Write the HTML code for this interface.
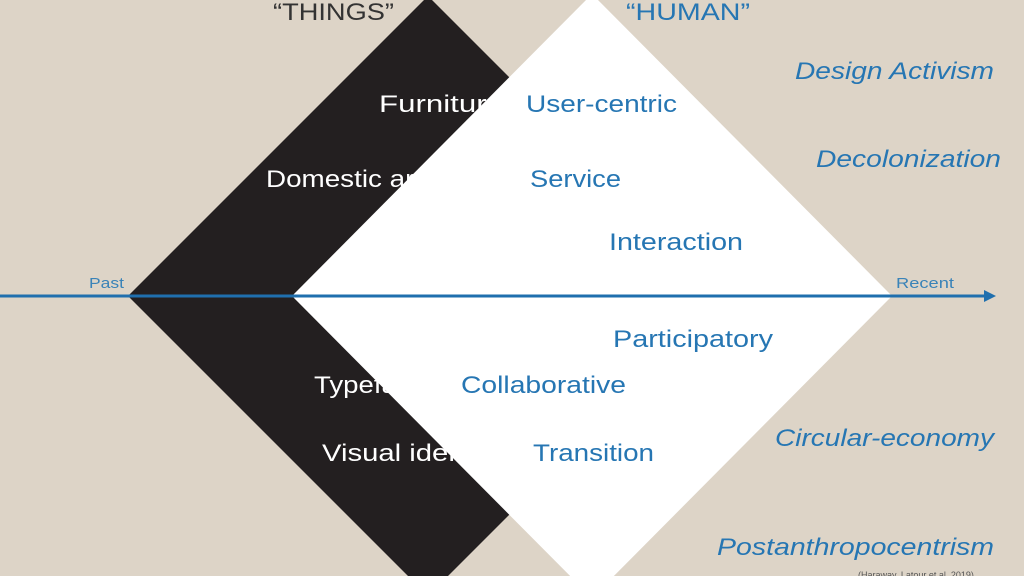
<!DOCTYPE html>
<html><head><meta charset="utf-8"><style>
html,body{margin:0;padding:0;width:1024px;height:576px;overflow:hidden;background:#ddd4c7;}
svg{display:block}
text{font-family:"Liberation Sans",sans-serif;}
</style></head><body>
<svg width="1024" height="576" viewBox="0 0 1024 576">
<rect width="1024" height="576" fill="#ddd4c7"/>
<polygon points="428,-4 728,296 428,596 128,296" fill="#231f20"/>
<g font-size="24" fill="#ffffff">
<text x="379" y="112" textLength="125" lengthAdjust="spacingAndGlyphs">Furniture</text>
<text x="266" y="187" textLength="170" lengthAdjust="spacingAndGlyphs">Domestic arts</text>
<text x="314" y="393" textLength="112" lengthAdjust="spacingAndGlyphs">Typeface</text>
<text x="322" y="461" textLength="180" lengthAdjust="spacingAndGlyphs">Visual identity</text>
</g>
<polygon points="592,-6 892,296 592,598 292,296" fill="#ffffff"/>
<line x1="0" y1="296" x2="986" y2="296" stroke="#1f6fae" stroke-width="3"/>
<polygon points="984,290 996,296 984,302" fill="#1f6fae"/>
<g font-size="24" fill="#2676b3">
<text x="526" y="112" textLength="151" lengthAdjust="spacingAndGlyphs">User-centric</text>
<text x="530" y="187" textLength="91" lengthAdjust="spacingAndGlyphs">Service</text>
<text x="609" y="250" textLength="134" lengthAdjust="spacingAndGlyphs">Interaction</text>
<text x="613" y="347" textLength="160" lengthAdjust="spacingAndGlyphs">Participatory</text>
<text x="461" y="393" textLength="165" lengthAdjust="spacingAndGlyphs">Collaborative</text>
<text x="533" y="461" textLength="121" lengthAdjust="spacingAndGlyphs">Transition</text>
</g>
<g font-size="24" fill="#2676b3" font-style="italic">
<text x="795" y="79" textLength="199" lengthAdjust="spacingAndGlyphs">Design Activism</text>
<text x="816" y="167" textLength="185" lengthAdjust="spacingAndGlyphs">Decolonization</text>
<text x="775" y="446" textLength="219" lengthAdjust="spacingAndGlyphs">Circular-economy</text>
<text x="717" y="555" textLength="277" lengthAdjust="spacingAndGlyphs">Postanthropocentrism</text>
</g>
<text x="273" y="20" font-size="24" fill="#333" textLength="121" lengthAdjust="spacingAndGlyphs">“THINGS”</text>
<text x="626" y="20" font-size="24" fill="#2676b3" textLength="124" lengthAdjust="spacingAndGlyphs">“HUMAN”</text>
<text x="89" y="288" font-size="15" fill="#3a83b8" textLength="35" lengthAdjust="spacingAndGlyphs">Past</text>
<text x="896" y="288" font-size="15" fill="#3a83b8" textLength="58" lengthAdjust="spacingAndGlyphs">Recent</text>
<text x="858" y="578" font-size="9" fill="#555">(Haraway, Latour et al. 2019)</text>
</svg>
</body></html>
